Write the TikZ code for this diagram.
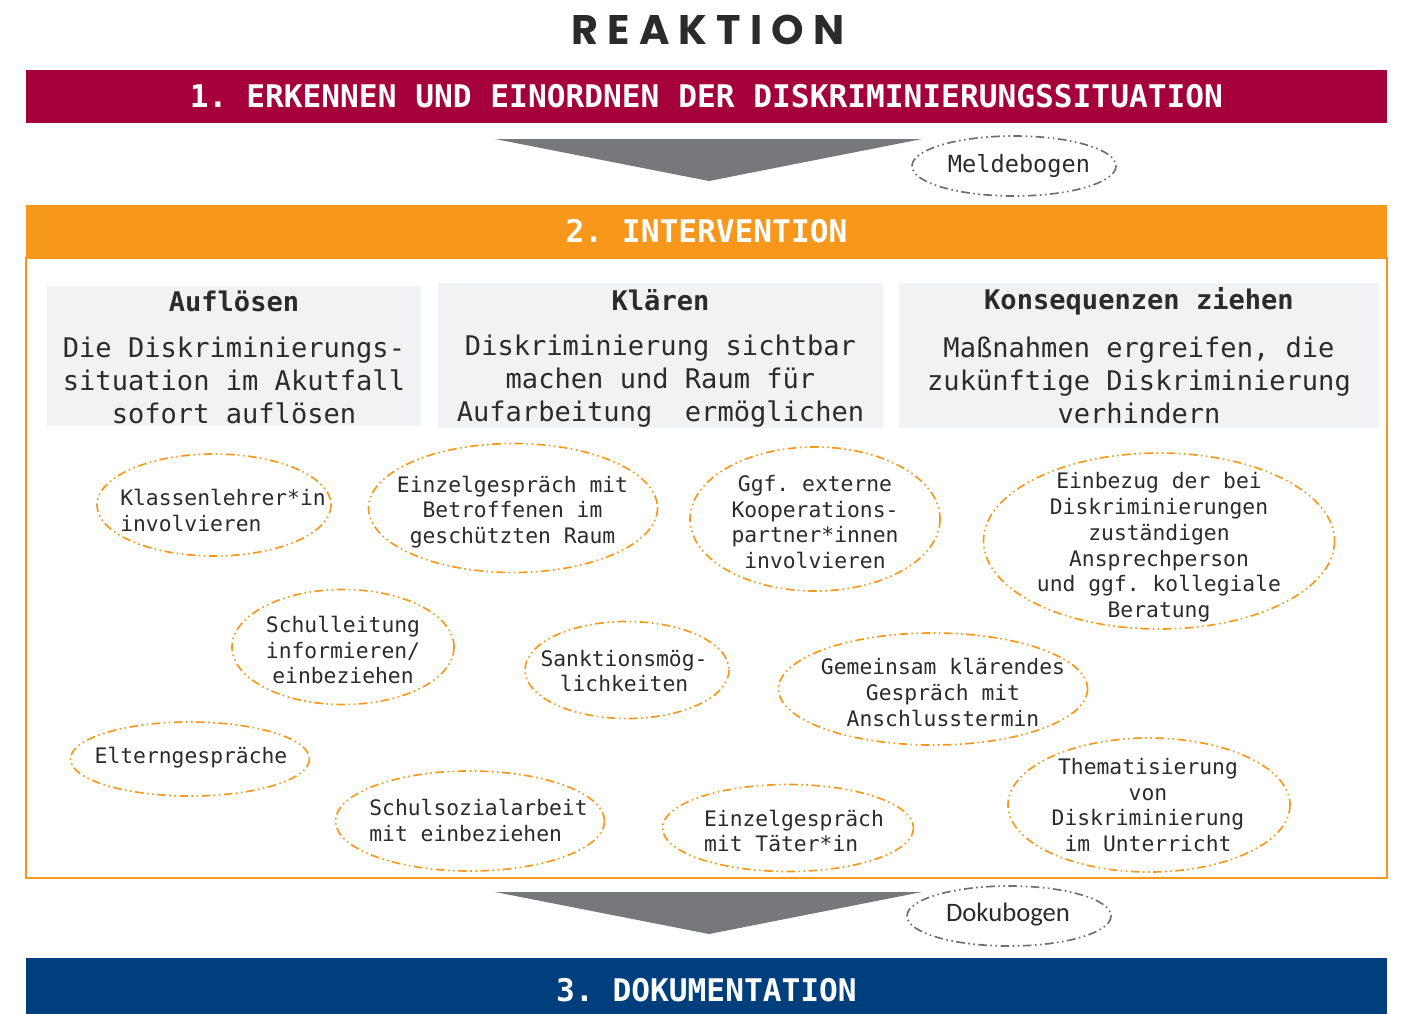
\documentclass[tikz,border=0pt]{standalone}
\usepackage{fontspec}
\setmainfont{DejaVu Sans Mono}
\newfontfamily\titlefont[LetterSpace=22]{Poppins}
\newfontfamily\dokufont{Carlito}
\usetikzlibrary{shapes.geometric}

\definecolor{bandred}{HTML}{A6003C}
\definecolor{bandorange}{HTML}{F7981D}
\definecolor{bandblue}{HTML}{003F7D}
\definecolor{arrowgray}{HTML}{77787B}
\definecolor{boxgray}{HTML}{F1F2F4}
\definecolor{textdark}{HTML}{2B2B2B}
\definecolor{ovalgray}{HTML}{6D6E71}

\begin{document}
\frenchspacing
\begin{tikzpicture}[x=0.75pt,y=-0.75pt,
  band/.style={fill=#1, text=white, inner sep=0pt, minimum width=1020.75pt,
    font=\fontsize{23.4}{28}\selectfont\bfseries},
  dashdotdot/.style={line width=1.25pt, dash pattern=on 6.5pt off 2.6pt on 1.2pt off 2.6pt on 1.2pt off 2.6pt},
  oval/.style={draw=bandorange, dashdotdot},
  formoval/.style={draw=ovalgray, dashdotdot},
  ovaltext/.style={inner sep=0pt, text=textdark, align=center, font=\fontsize{16}{19.3}\selectfont},
  graybox/.style={fill=boxgray, inner sep=0pt},
  boxtitle/.style={text=textdark, font=\fontsize{20.3}{24}\selectfont\bfseries},
  boxbody/.style={text=textdark, align=center, font=\fontsize{20.3}{24.75}\selectfont}]
  \useasboundingbox (0,0) rectangle (1414,1014);

  % title
  \node[text=textdark, font=\titlefont\fontsize{31}{36}\selectfont\bfseries] (reaktion) at (708,30) {REAKTION};

  % step 1
  \node[band=bandred, minimum height=39.75pt] (erkennen) at (706.5,96.5)
    {1. ERKENNEN UND EINORDNEN DER DISKRIMINIERUNGSSITUATION};
  \fill[arrowgray] (495,139) -- (922,139) -- (709,181) -- cycle;
  \node[ovaltext, font=\fontsize{17.7}{21}\selectfont] (melde) at (1019,166) {Meldebogen};
  \draw[formoval] (1014,166) ellipse [x radius=102, y radius=30];

  % step 2
  \node[band=bandorange, minimum height=39.75pt] (intervention) at (706.5,231.5) {2. INTERVENTION};
  \draw[bandorange, line width=1.1pt] (26,258) rectangle (1387,878);

  % three columns
  \node[graybox, minimum width=280.5pt, minimum height=105pt] (aufloesen) at (234,356) {};
  \node[boxtitle] (aufloesentitel) at (234,301) {Auflösen};
  \node[boxbody] (aufloesentext) at (234,380) {Die Diskriminierungs-\\situation im Akutfall\\sofort auflösen};

  \node[graybox, minimum width=333.75pt, minimum height=108.75pt] (klaeren) at (660.5,355.5) {};
  \node[boxtitle] (klaerentitel) at (660.5,300) {Klären};
  \node[boxbody] (klaerentext) at (660.5,381) {Diskriminierung sichtbar\\machen und Raum für\\Aufarbeitung~~ermöglichen};

  \node[graybox, minimum width=360pt, minimum height=108.75pt] (konsequenzen) at (1139,355.5) {};
  \node[boxtitle] (konsequenzentitel) at (1139,301) {Konsequenzen ziehen};
  \node[boxbody] (konsequenzentext) at (1139,380) {Maßnahmen ergreifen, die\\zukünftige Diskriminierung\\verhindern};

  % measures
  \node[ovaltext, align=left] (klassen) at (223,510.5) {Klassenlehrer*in\\involvieren};
  \draw[oval] (214,505) ellipse [x radius=117, y radius=51];
  \node[ovaltext] (einzelbetr) at (512.5,512) {Einzelgespräch mit\\Betroffenen im\\geschützten Raum};
  \draw[oval] (513,508) ellipse [x radius=144.5, y radius=64.5];
  \node[ovaltext] (extern) at (815,522) {Ggf. externe\\Kooperations-\\partner*innen\\involvieren};
  \draw[oval] (815,519) ellipse [x radius=125, y radius=72];
  \node[ovaltext] (einbezug) at (1159,547.5) {Einbezug der bei\\Diskriminierungen\\zuständigen\\Ansprechperson\\und ggf. kollegiale\\Beratung};
  \draw[oval] (1159,541) ellipse [x radius=175.5, y radius=88];
  \node[ovaltext] (schulleitung) at (343,650) {Schulleitung\\informieren/\\einbeziehen};
  \draw[oval] (343,647) ellipse [x radius=111, y radius=57.5];
  \node[ovaltext] (sanktion) at (624,671) {Sanktionsmög-\\lichkeiten};
  \draw[oval] (627,670) ellipse [x radius=102, y radius=48.5];
  \node[ovaltext] (gemeinsam) at (943,692.5) {Gemeinsam klärendes\\Gespräch mit\\Anschlusstermin};
  \draw[oval] (933,689) ellipse [x radius=154.5, y radius=56];
  \node[ovaltext] (eltern) at (191,758) {Elterngespräche};
  \draw[oval] (190,759) ellipse [x radius=119.5, y radius=37];
  \node[ovaltext, align=left] (sozial) at (478.5,820.5) {Schulsozialarbeit\\mit einbeziehen};
  \draw[oval] (470,821) ellipse [x radius=134.5, y radius=50];
  \node[ovaltext, align=left] (einzeltaeter) at (794,831) {Einzelgespräch\\mit Täter*in};
  \draw[oval] (788,828) ellipse [x radius=125.5, y radius=43.5];
  \node[ovaltext] (thema) at (1148,805) {Thematisierung\\von\\Diskriminierung\\im Unterricht};
  \draw[oval] (1149,805) ellipse [x radius=141, y radius=67];

  % step 3
  \fill[arrowgray] (495,892) -- (922,892) -- (709,934) -- cycle;
  \node[ovaltext, font=\dokufont\fontsize{20}{24}\selectfont] (doku) at (1008,915) {Dokubogen};
  \draw[formoval] (1009,916) ellipse [x radius=102, y radius=30];
  \node[band=bandblue, minimum height=48pt] (dokumentation) at (706.5,990) {3. DOKUMENTATION};
\end{tikzpicture}
\end{document}
